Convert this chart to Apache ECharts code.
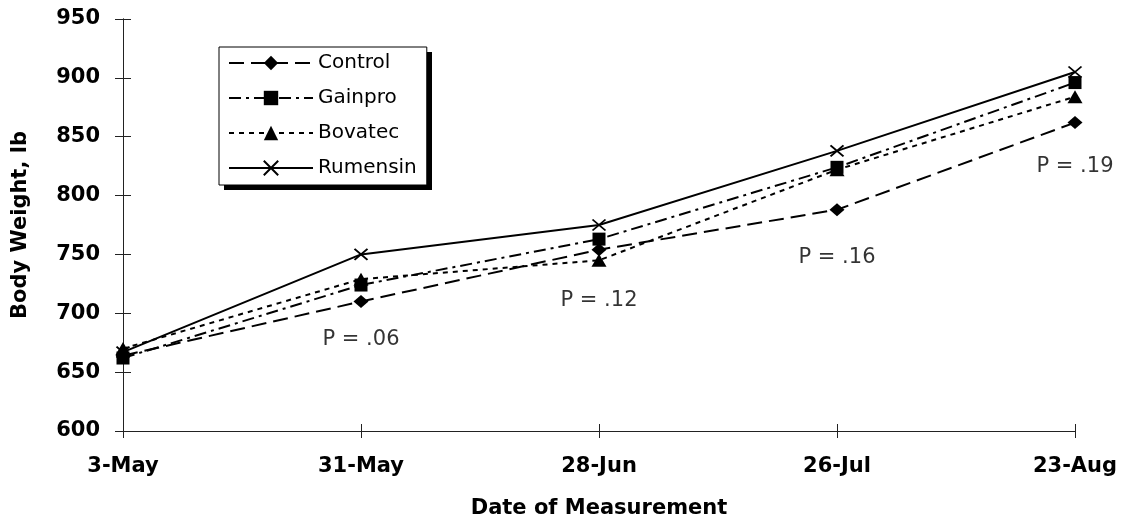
<!DOCTYPE html>
<html>
<head>
<meta charset="utf-8">
<script src="https://cdn.jsdelivr.net/npm/echarts@6/dist/echarts.min.js"></script>
<style>
  html, body { margin: 0; padding: 0; background: #fff; }
  #chart { width: 1125px; height: 522px; }
</style>
</head>
<body>
<div id="chart"></div>
<script>
// dates of measurement
const dates = ['3-May', '31-May', '28-Jun', '26-Jul', '23-Aug']

// body weight, lb
const control = [664, 710, 754, 788, 862]
const gainpro = [662, 724, 763, 824, 896]
const bovatec = [670, 729, 745, 822, 884]
const rumensin = [667, 750, 775, 838, 905]

// P value notes, placed under each date
const pDates = ['31-May', '28-Jun', '26-Jul', '23-Aug']
const pTexts = ['P = .06', 'P = .12', 'P = .16', 'P = .19']
const pWeights = [678, 711, 747, 825]

const font = 'DejaVu Sans'
const crossPath = 'path://M0,0L10,10M10,0L0,10'
const plotBox = { left: 123, right: 50, top: 19, bottom: 91, outerBoundsMode: 'none', containLabel: false }

function lineSeries(name, data, symbol, size, dash) {
  return {
    name: name,
    type: 'line',
    data: data,
    symbol: symbol,
    symbolSize: size,
    showAllSymbol: true,
    lineStyle: { color: '#000', width: 2, type: dash },
    itemStyle: { color: '#000', borderColor: '#000', borderWidth: symbol === crossPath ? 1.8 : 0 },
    emphasis: { disabled: true },
    z: 3,
  }
}

const chart = echarts.init(document.getElementById('chart'))
chart.setOption({
  animation: false,
  backgroundColor: '#fff',
  // second grid on top of the first one carries the inner half of the crossing ticks
  grid: [Object.assign({}, plotBox), Object.assign({}, plotBox)],
  // legend drop shadow (a plain black box behind the legend)
  graphic: [
    {
      type: 'rect',
      left: 224,
      top: 52,
      shape: { width: 208, height: 138 },
      style: { fill: '#000' },
      z: 0,
    },
  ],
  legend: {
    data: ['Control', 'Gainpro', 'Bovatec', 'Rumensin'],
    orient: 'vertical',
    left: 219,
    top: 47,
    padding: [6, 10, 7, 9],
    itemWidth: 84,
    itemHeight: 18,
    itemGap: 15,
    backgroundColor: '#fff',
    borderColor: '#000',
    borderWidth: 1,
    borderRadius: 0,
    textStyle: { fontFamily: font, fontSize: 20, color: '#000' },
    selectedMode: false,
    z: 10,
  },
  xAxis: [
    {
      type: 'category',
      data: dates,
      boundaryGap: false,
      name: 'Date of Measurement',
      nameLocation: 'middle',
      nameGap: 67,
      nameTextStyle: { fontFamily: font, fontSize: 21, fontWeight: 'bold', color: '#000' },
      axisLine: { lineStyle: { color: '#222', width: 1 } },
      axisTick: { show: true, length: 7, lineStyle: { color: '#222' } },
      axisLabel: { fontFamily: font, fontSize: 21, fontWeight: 'bold', color: '#000', margin: 25 },
      splitLine: { show: false },
    },
    {
      gridIndex: 1,
      type: 'category',
      data: dates,
      boundaryGap: false,
      axisLine: { show: true, lineStyle: { color: '#222', width: 1 } },
      axisTick: { show: true, inside: true, length: 7, lineStyle: { color: '#222' } },
      axisLabel: { show: false },
      splitLine: { show: false },
    },
  ],
  yAxis: [
    {
      type: 'value',
      min: 600,
      max: 950,
      interval: 50,
      name: 'Body Weight, lb',
      nameLocation: 'middle',
      nameGap: 92,
      nameTextStyle: { fontFamily: font, fontSize: 21, fontWeight: 'bold', color: '#000' },
      axisLine: { show: true, lineStyle: { color: '#222', width: 1 } },
      axisTick: { show: true, length: 8, lineStyle: { color: '#222' } },
      axisLabel: { fontFamily: font, fontSize: 21, fontWeight: 'bold', color: '#000', margin: 23 },
      splitLine: { show: false },
    },
    {
      gridIndex: 1,
      type: 'value',
      min: 600,
      max: 950,
      interval: 50,
      axisLine: { show: true, lineStyle: { color: '#222', width: 1 } },
      axisTick: { show: true, inside: true, length: 8, lineStyle: { color: '#222' } },
      axisLabel: { show: false },
      splitLine: { show: false },
    },
  ],
  series: [
    lineSeries('Control', control, 'diamond', [15, 13], [15, 7]),
    lineSeries('Gainpro', gainpro, 'rect', [13, 13], [12, 5, 3, 5]),
    lineSeries('Bovatec', bovatec, 'triangle', [15, 13], [5, 5]),
    lineSeries('Rumensin', rumensin, crossPath, [13, 11], 'solid'),
    {
      name: 'P values',
      type: 'scatter',
      xAxisIndex: 1,
      yAxisIndex: 1,
      data: pDates.map((d, i) => [d, pWeights[i], pTexts[i]]),
      symbolSize: 0,
      silent: true,
      label: {
        show: true,
        position: 'inside',
        formatter: (p) => p.data[2],
        fontFamily: font,
        fontSize: 21,
        color: '#000',
      },
      z: 2,
    },
  ],
})
</script>
</body>
</html>
